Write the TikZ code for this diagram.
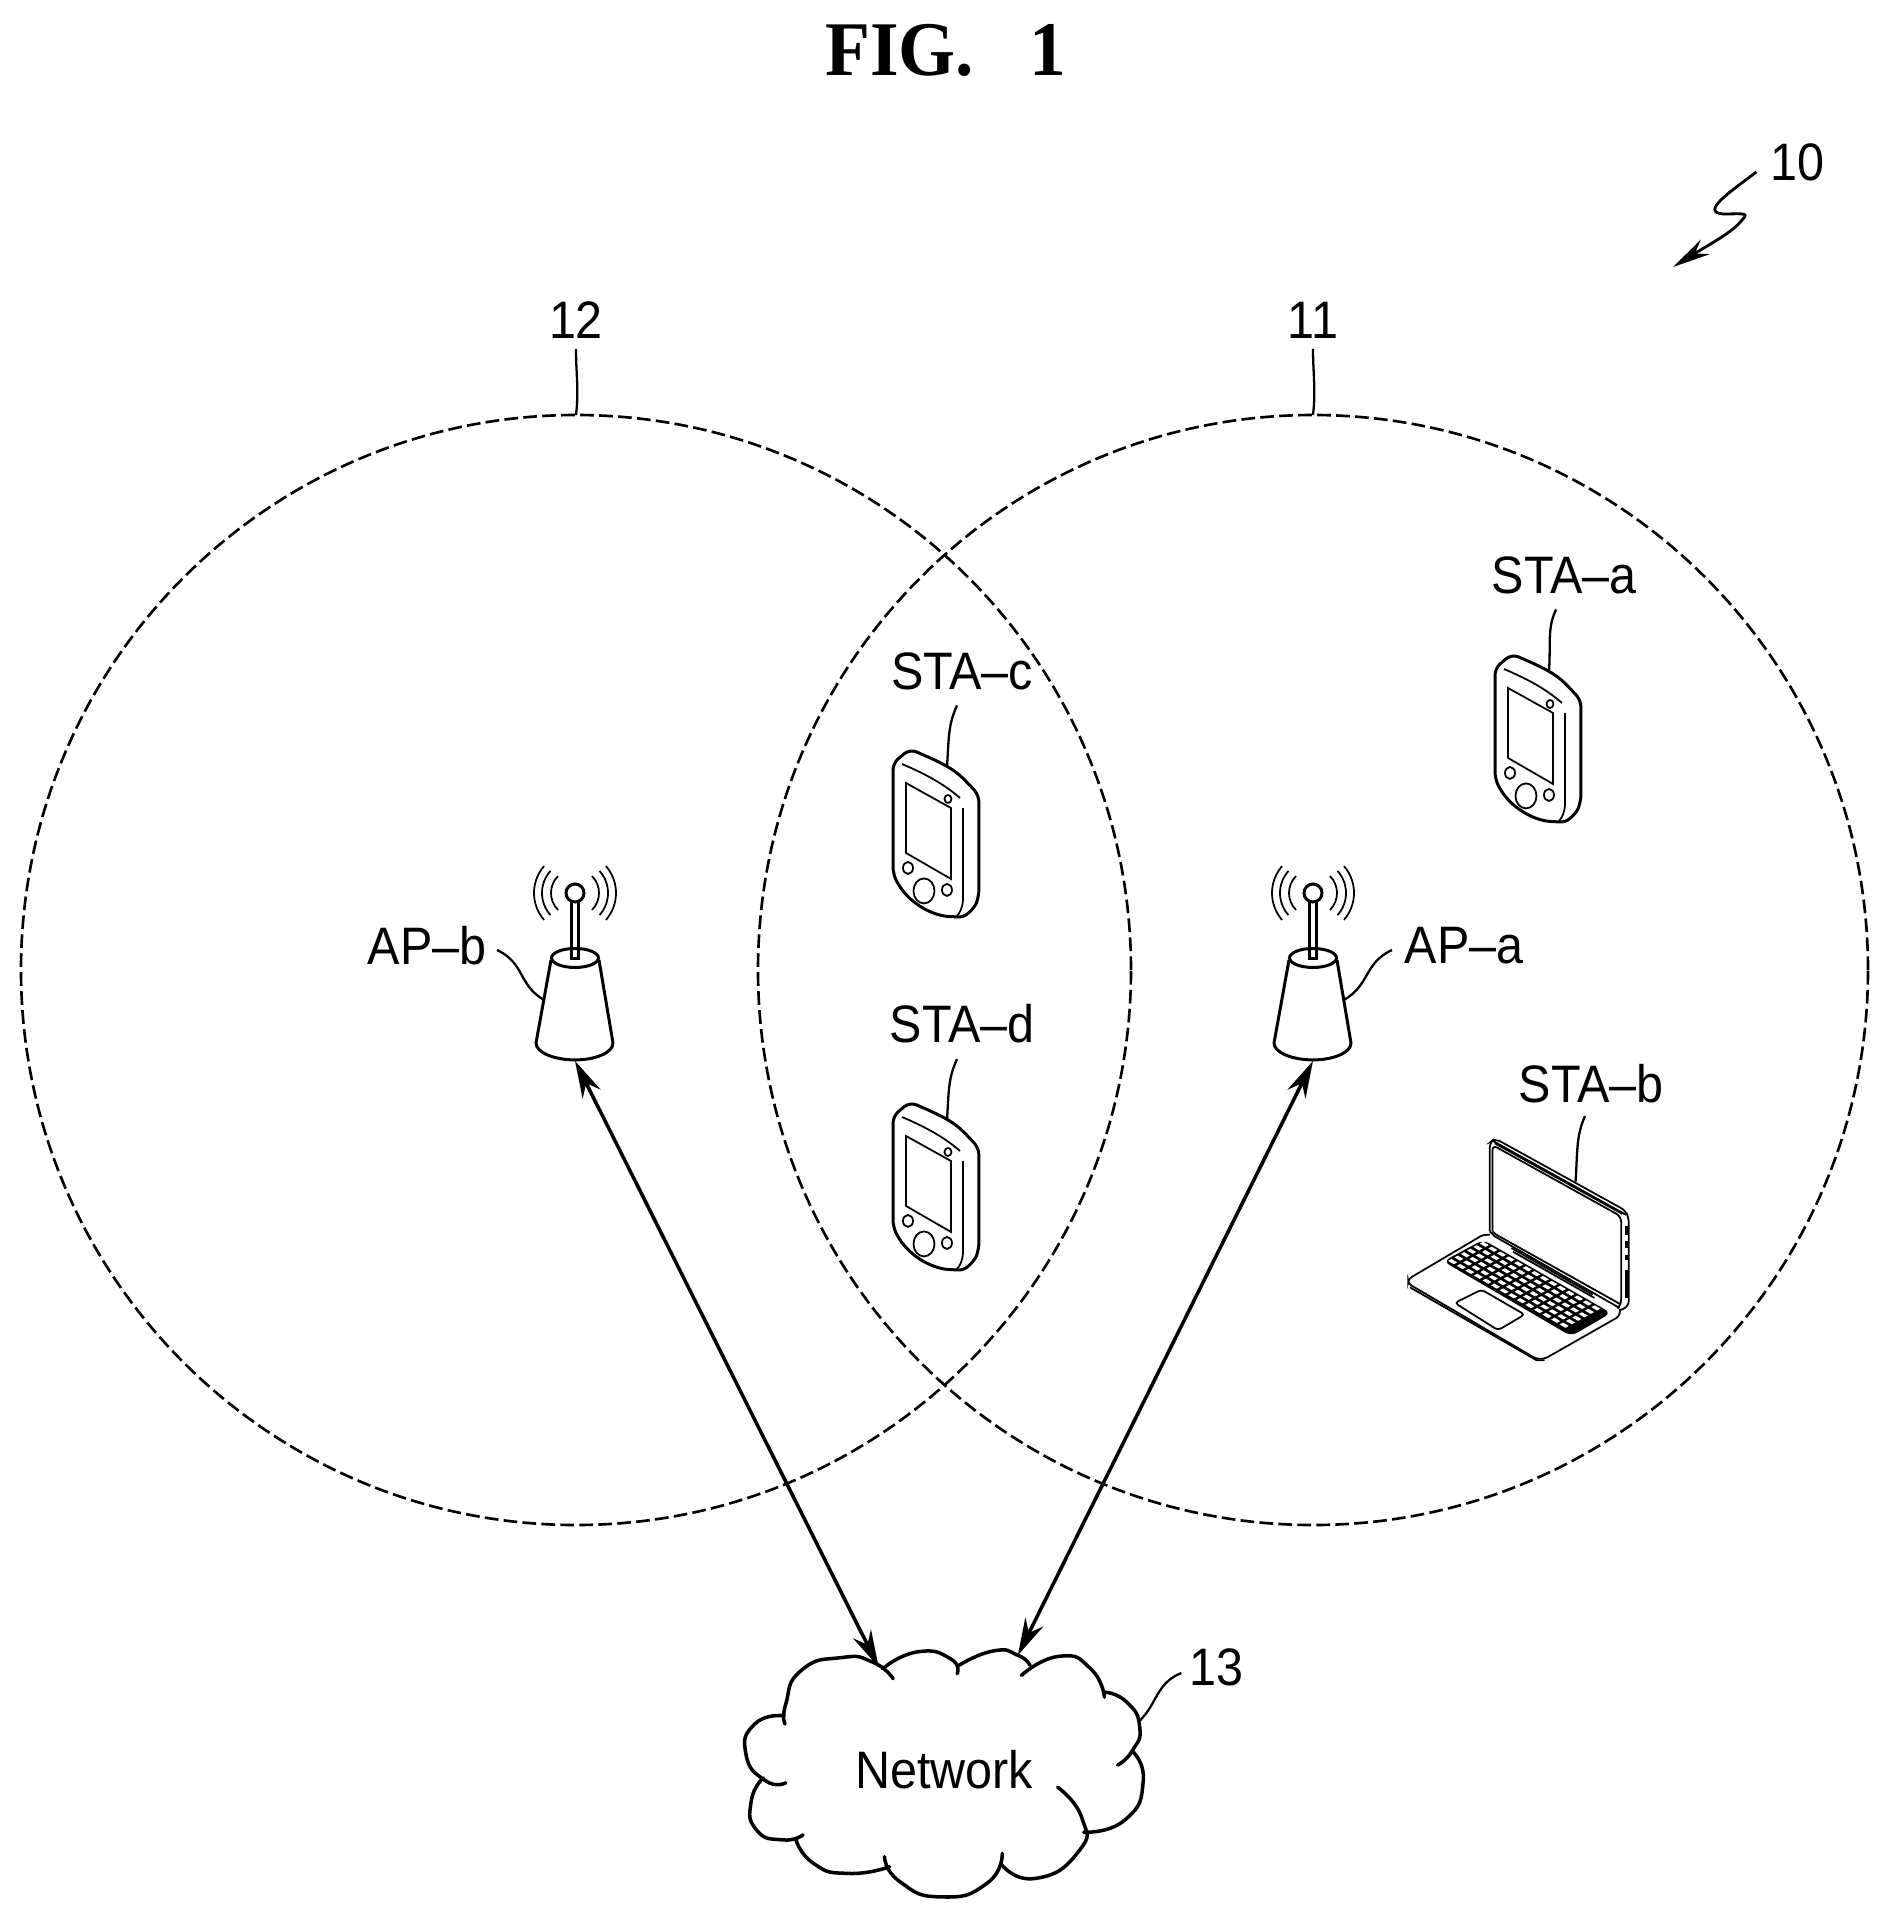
\documentclass[tikz,border=0pt]{standalone}
\usepackage{fontspec}
\setmainfont[FakeStretch=0.92]{Liberation Sans}
\newfontfamily\figfont[FakeStretch=0.95]{Liberation Serif}
\usetikzlibrary{arrows.meta,calc,positioning}

\tikzset{
  lbl/.style={inner sep=0pt, font=\fontsize{15}{18}\selectfont},
  figlbl/.style={inner sep=0pt, font=\figfont\bfseries\fontsize{22}{26}\selectfont},
  leader/.style={line width=0.65pt},
  cell/.style={circle, draw, dash pattern=on 3.9pt off 1.5pt, line width=0.75pt, minimum size=11.1cm, inner sep=0pt, outer sep=0pt},
  link/.style={line width=1pt, {Stealth[length=0.37cm,width=0.2cm]}-{Stealth[length=0.37cm,width=0.2cm]}},
  body/.style={line width=0.85pt},
  cloudline/.style={line width=1pt, line cap=round},
  thinline/.style={line width=0.5pt}
}

% handheld station, origin at its upper left corner
\newcommand{\stahand}[3]{
  \begin{scope}[shift={(#2,#3)}, x=0.01cm, y=-0.01cm]
    \coordinate (#1) at (54,18);
    \draw[body, rounded corners=2pt] (0,14) -- (17,0) .. controls (35,8) and (50,14) .. (67,26) -- (86,46) -- (86,147)
      .. controls (82,158) and (74,168) .. (60,168) .. controls (40,166) and (15,155) .. (0,125) -- cycle;
    \draw[thinline] (9,15) .. controls (30,24) and (50,34) .. (67,49);
    \draw[thinline] (13,34) -- (58,59) -- (58,130) -- (13,104) -- cycle;
    \draw[thinline] (55,50) ellipse (3.5 and 4);
    \draw[line width=0.8pt] (70,59) -- (70,150);
    \draw[thinline] (70,150) .. controls (70,158) and (67,164) .. (64,167);
    \draw[thinline] (15,119) ellipse (5 and 6);
    \draw[thinline] (54,141) ellipse (5 and 6);
    \draw[thinline] (31,142) ellipse (10.5 and 12.5);
  \end{scope}
}

% access point with its mast and waves, origin at the ball
\newcommand{\apunit}[3]{
  \begin{scope}[shift={(#2,#3)}, x=0.01cm, y=-0.01cm]
    \coordinate (#1-base) at (0,168);
    \coordinate (#1-l) at (-31,107);
    \coordinate (#1-r) at (31,107);
    \draw[body] (0,0) circle (0.09cm);
    \draw[body] (-3.5,9) -- (-3.5,66) -- (3.5,66) -- (3.5,9);
    \draw[body] (0,65) ellipse (23.5 and 9.5);
    \draw[body] (-24,67) -- (-39,150) .. controls (-39,160) and (-20,167) .. (0,167)
      .. controls (20,167) and (38,160) .. (38,150) -- (24,67);
    \foreach \r/\a in {0.41cm/41, 0.33cm/42, 0.24cm/45} {
      \draw[thinline] (0,0) ++(180-\a:\r) arc[start angle=180-\a, end angle=180+\a, radius=\r];
      \draw[thinline] (0,0) ++(\a:\r) arc[start angle=\a, end angle=-\a, radius=\r];
    }
  \end{scope}
}

\begin{document}
\begin{tikzpicture}
  \useasboundingbox (0,0) rectangle (18.89,-19.16);

  \node[figlbl] (title) at (9.46,-0.50) {FIG.\hspace{0.72em}1};

  % coverage areas
  \node[cell] (cell12) at (5.76,-9.70) {};
  \node[cell] (cell11) at (13.13,-9.70) {};
  \node[lbl] (ref12) at (5.76,-3.20) {12};
  \node[lbl] (ref11) at (13.13,-3.20) {11};
  \draw[leader] ([yshift=-0.1cm]ref12.south) .. controls +(0,-0.25) and +(0.03,0.25) .. (cell12.north);
  \draw[leader] ([yshift=-0.1cm]ref11.south) .. controls +(0,-0.25) and +(0.03,0.25) .. (cell11.north);

  \node[lbl] (ref10) at (17.97,-1.62) {10};
  \coordinate (sys10) at (16.73,-2.67);
  \draw[leader, line width=0.8pt, -{Stealth[length=0.38cm,width=0.17cm]}] ([xshift=-0.13cm,yshift=-0.1cm]ref10.west)
    .. controls (17.3,-1.92) and (17.0,-2.12) .. (17.23,-2.14)
    .. controls (17.42,-2.14) and (17.5,-2.12) .. (17.42,-2.2)
    .. controls (17.33,-2.32) and (17.1,-2.44) .. (sys10);

  % stations
  \stahand{devc}{8.93}{-7.49}
  \stahand{devd}{8.93}{-11.02}
  \stahand{deva}{14.95}{-6.54}
  \node[lbl] (stac) at (9.62,-6.71) {STA–c};
  \node[lbl] (stad) at (9.62,-10.24) {STA–d};
  \node[lbl] (staa) at (15.64,-5.75) {STA–a};
  \node[lbl] (stab) at (15.91,-10.84) {STA–b};
  \draw[leader] ([xshift=-0.05cm,yshift=-0.15cm]stac.south) .. controls +(-0.09,-0.2) and +(0.02,0.3) .. (devc);
  \draw[leader] ([xshift=-0.05cm,yshift=-0.15cm]stad.south) .. controls +(-0.09,-0.2) and +(0.02,0.3) .. (devd);
  \draw[leader] ([xshift=-0.08cm,yshift=-0.15cm]staa.south) .. controls +(-0.09,-0.2) and +(0.02,0.3) .. (deva);

  % notebook, in units of the crop
  \begin{scope}[shift={(13.8,-11.2)}, x=0.00333cm, y=-0.00333cm]
    \coordinate (devb) at (588,185);
    \fill[rounded corners=2pt] (190,425) -- (310,360) -- (695,580) -- (575,650) -- cycle;
    \foreach \r in {0,...,5} {
      \foreach \c in {0,...,13} {
        \fill[white] ($(310,360)+(\c*25.8+5,\c*14.7+3)+(\r*-19,\r*10.4)+(-5,3)$)
          -- ++(17,10) -- ++(-10,5.5) -- ++(-17,-10) -- cycle;
      }
    }
    \draw[thinline, rounded corners=1.5pt] (330,335) -- (330,68) -- (345,55) -- (738,272) -- (748,295) -- (748,560) -- (722,572);
    \draw[thinline, rounded corners=1.5pt] (338,335) -- (338,75) -- (725,290) -- (725,555) -- (720,560);
    \draw[thinline] (338,62) -- (740,285);
    \draw[thinline] (345,70) -- (728,282);
    \draw[thinline] (330,335) -- (345,350) -- (720,565);
    \draw[thinline] (338,335) -- (350,345) -- (725,555);
    \draw[line width=0.9pt] (740,320) -- (740,345);
    \draw[line width=0.9pt] (740,365) -- (740,385);
    \draw[line width=0.9pt] (740,405) -- (740,420);
    \draw[line width=0.9pt] (740,450) -- (740,535);
    \draw[thinline, rounded corners=1pt] (330,345) -- (310,345) -- (85,478) -- (85,492) -- (470,718) -- (495,718) -- (720,590) -- (722,568);
    \draw[thinline] (90,503) -- (470,722) -- (495,722);
    \draw[thinline, rounded corners=1pt] (225,550) -- (305,510) -- (435,585) -- (355,632) -- cycle;
    \draw[thinline] (395,385) -- (640,525);
    \draw[thinline] (400,396) -- (645,535);
  \end{scope}
  \draw[leader] ([xshift=-0.06cm,yshift=-0.12cm]stab.south) .. controls +(-0.09,-0.2) and +(0.02,0.3) .. (devb);

  % access points
  \apunit{apb}{5.75}{-8.93}
  \apunit{apa}{13.13}{-8.93}
  \node[lbl] (apblbl) at (4.27,-9.46) {AP–b};
  \node[lbl] (apalbl) at (14.64,-9.46) {AP–a};
  \draw[leader] ([xshift=-0.12cm,yshift=-0.04cm]apalbl.west) .. controls +(-0.28,-0.13) and +(0.26,0.15) .. (apa-r);
  \draw[leader] ([xshift=0.10cm,yshift=-0.04cm]apblbl.east) .. controls +(0.28,-0.13) and +(-0.26,0.15) .. (apb-l);

  % network cloud, in units of the crop
  \begin{scope}[shift={(7.2,-16.2)}, x=0.00346cm, y=-0.00335cm]
    \coordinate (netb) at (458,140);
    \coordinate (neta) at (860,105);
    \coordinate (netr) at (1212,300);
    \draw[cloudline] plot[smooth,tension=1] coordinates {(188,310) (190,250) (235,150) (350,112) (440,125) (500,175)};
    \draw[cloudline] plot[smooth,tension=1] coordinates {(470,145) (570,95) (665,115) (685,160)};
    \draw[cloudline] plot[smooth,tension=1] coordinates {(690,135) (790,92) (860,105) (895,135)};
    \draw[cloudline] plot[smooth,tension=1] coordinates {(870,165) (980,108) (1070,145) (1110,230)};
    \draw[cloudline] plot[smooth,tension=1] coordinates {(1110,215) (1175,245) (1212,320) (1190,390) (1148,432)};
    \draw[cloudline] plot[smooth,tension=1] coordinates {(1190,390) (1222,480) (1170,595) (1050,632)};
    \draw[cloudline] plot[smooth,tension=1] coordinates {(975,498) (1045,590) (1035,690) (910,770) (810,725)};
    \draw[cloudline] plot[smooth,tension=1] coordinates {(815,695) (770,785) (640,825) (520,780) (475,705)};
    \draw[cloudline] plot[smooth,tension=1] coordinates {(490,735) (370,755) (270,725) (218,650)};
    \draw[cloudline] plot[smooth,tension=1] coordinates {(240,640) (180,655) (105,625) (90,540) (125,470)};
    \draw[cloudline] plot[smooth,tension=1] coordinates {(190,485) (130,478) (75,400) (100,310) (185,285)};
  \end{scope}
  \node[lbl] (net) at (9.44,-17.70) {Network};
  \node[lbl] (ref13) at (12.16,-16.67) {13};
  \draw[leader] ([xshift=-0.07cm,yshift=-0.06cm]ref13.west) .. controls +(-0.25,-0.1) and +(0.18,0.18) .. (netr);

  % links to the network
  \draw[link] (apb-base) -- (netb);
  \draw[link] (apa-base) -- (neta);
\end{tikzpicture}
\end{document}
